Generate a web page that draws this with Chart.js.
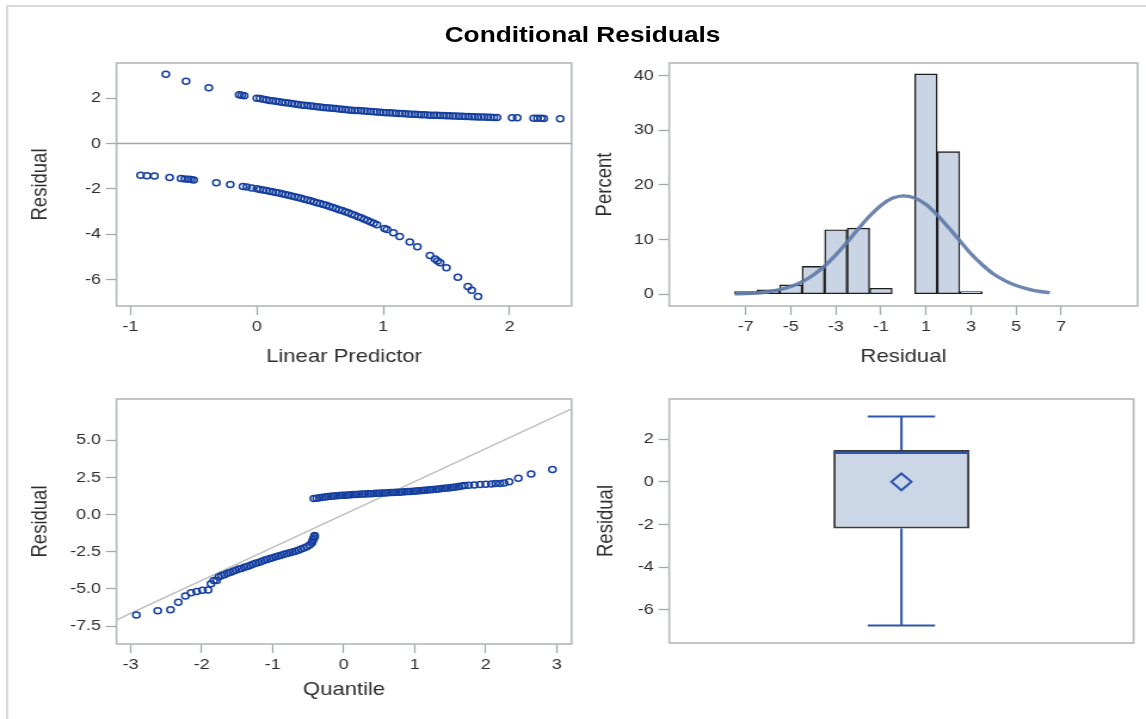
<!DOCTYPE html>
<html>
<head>
<meta charset="utf-8">
<script src="https://cdn.jsdelivr.net/npm/chart.js@4.4.1/dist/chart.umd.min.js"></script>
<style>
html,body{margin:0;padding:0;background:#fff;overflow:hidden}
/* the reference is a 640x480 SAS graph stretched wider than tall, so the page is drawn narrow and stretched */
#page{position:absolute;left:0;top:0;width:960px;height:719px;transform:scaleX(1.19375);transform-origin:0 0}
#edge{position:absolute;left:5px;top:5px;width:980px;height:730px;border-left:2px solid #dadada;border-top:2px solid #dadada}
#title{position:absolute;left:0;top:24px;width:976px;text-align:center;font:bold 22px 'Liberation Sans',Arial,sans-serif;line-height:22px;color:#000}
canvas{position:absolute}
</style>
</head>
<body>
<div id="page">
  <div id="edge"></div>
  <div id="title">Conditional Residuals</div>
  <canvas id="c1" width="485" height="320" style="left:0;top:50px"></canvas>
  <canvas id="c2" width="470" height="320" style="left:490px;top:50px"></canvas>
  <canvas id="c3" width="485" height="325" style="left:0;top:386px"></canvas>
  <canvas id="c4" width="470" height="270" style="left:490px;top:386px"></canvas>
</div>
<script>
// residual vs linear predictor, two branches
const lpUpper=[-0.72,-0.56,-0.38,-0.14,-0.12,-0.10,
  0,0.025,0.05,0.075,0.1,0.125,0.15,0.175,0.2,0.225,0.25,0.275,0.3,0.325,0.35,0.375,0.4,0.425,0.45,0.475,
  0.5,0.525,0.55,0.575,0.6,0.625,0.65,0.675,0.7,0.725,0.75,0.775,0.8,0.825,0.85,0.875,0.9,0.925,0.95,0.975,
  1.0,1.025,1.05,1.075,1.1,1.125,1.15,1.175,1.2,1.225,1.25,1.275,1.3,1.325,1.35,1.375,1.4,1.425,1.45,1.475,
  1.5,1.525,1.55,1.575,1.6,1.625,1.65,1.675,1.7,1.725,1.75,1.775,1.8,1.825,1.85,1.875,1.9,
  2.02,2.06,2.19,2.22,2.25,2.27,2.40];
const resUpper=[3.05,2.75,2.46,2.15,2.13,2.10,
  2.00,1.98,1.95,1.93,1.90,1.88,1.86,1.84,1.82,1.80,1.78,1.76,1.74,1.72,1.70,1.69,1.67,1.65,1.64,1.62,
  1.61,1.59,1.58,1.56,1.55,1.54,1.52,1.51,1.50,1.48,1.47,1.46,1.45,1.44,1.43,1.42,1.41,1.40,1.39,1.38,
  1.37,1.36,1.35,1.34,1.33,1.32,1.32,1.31,1.30,1.29,1.29,1.28,1.27,1.27,1.26,1.25,1.25,1.24,1.23,1.23,
  1.22,1.22,1.21,1.21,1.20,1.20,1.19,1.19,1.18,1.18,1.17,1.17,1.17,1.16,1.16,1.15,1.15,
  1.13,1.13,1.11,1.11,1.11,1.10,1.09];
const lpLower=[-0.92,-0.87,-0.81,-0.69,-0.60,-0.57,-0.54,-0.52,-0.50,-0.32,-0.21,-0.11,-0.08,-0.04,
  0,0.025,0.05,0.075,0.1,0.125,0.15,0.175,0.2,0.225,0.25,0.275,0.3,0.325,0.35,0.375,0.4,0.425,0.45,0.475,
  0.5,0.525,0.55,0.575,0.6,0.625,0.65,0.675,0.7,0.725,0.75,0.775,0.8,0.825,0.85,0.875,0.9,0.925,0.95,
  1.01,1.03,1.08,1.13,1.21,1.27,1.37,1.41,1.43,1.45,1.50,1.59,1.67,1.70,1.75];
const resLower=[-1.40,-1.42,-1.44,-1.50,-1.55,-1.57,-1.58,-1.59,-1.61,-1.73,-1.81,-1.90,-1.92,-1.96,
  -2.00,-2.03,-2.05,-2.08,-2.11,-2.13,-2.16,-2.19,-2.22,-2.25,-2.28,-2.32,-2.35,-2.38,-2.42,-2.46,-2.49,-2.53,-2.57,-2.61,
  -2.65,-2.69,-2.73,-2.78,-2.82,-2.87,-2.92,-2.96,-3.01,-3.06,-3.12,-3.17,-3.23,-3.28,-3.34,-3.40,-3.46,-3.52,-3.59,
  -3.75,-3.80,-3.94,-4.10,-4.35,-4.56,-4.94,-5.10,-5.18,-5.26,-5.48,-5.90,-6.31,-6.47,-6.75];
const lpTicks=[-1,0,1,2];
const lpResTicks=[-6,-4,-2,0,2];

// histogram of residuals with normal density
const binCenter=[-7,-6,-5,-4,-3,-2,-1,0,1,2,3];
const binPercent=[0.5,0.8,1.7,5.1,11.8,12.1,1.1,0,40.3,26.1,0.5];
const normX=[-7.5,-7,-6.5,-6,-5.5,-5,-4.5,-4,-3.5,-3,-2.5,-2,-1.5,-1,-0.5,0,0.5,1,1.5,2,2.5,3,3.5,4,4.5,5,5.5,6,6.5];
const normY=[0.06,0.12,0.24,0.46,0.83,1.41,2.29,3.53,5.17,7.20,9.52,11.97,14.31,16.25,17.54,18.0,17.6,16.4,14.5,12.2,9.8,7.4,5.4,3.7,2.5,1.6,1.0,0.55,0.3];
const histXTicks=[-7,-5,-3,-1,1,3,5,7];
const histYTicks=[0,10,20,30,40];

// normal quantile plot
const qLower=[-2.92,-2.62,-2.44,-2.33,-2.23,-2.15,-2.07,-1.99,-1.91,-1.87,
  -1.83,-1.79,-1.76,-1.72,-1.68,-1.64,-1.60,-1.56,-1.52,-1.48,
  -1.44,-1.40,-1.36,-1.32,-1.28,-1.24,-1.20,-1.16,-1.12,-1.08,
  -1.04,-1.00,-0.96,-0.92,-0.88,-0.84,-0.80,-0.76,-0.72,-0.68,
  -0.64,-0.60,-0.56,-0.52,-0.48,-0.45,-0.44,-0.43,-0.42,-0.41,-0.41];
const rLower=[-6.75,-6.47,-6.40,-5.90,-5.48,-5.26,-5.18,-5.10,-5.08,-4.66,
  -4.44,-4.44,-4.20,-4.10,-4.05,-3.94,-3.90,-3.82,-3.75,-3.66,
  -3.62,-3.55,-3.50,-3.42,-3.35,-3.28,-3.22,-3.16,-3.08,-3.02,
  -2.96,-2.90,-2.84,-2.78,-2.73,-2.67,-2.62,-2.57,-2.52,-2.46,
  -2.40,-2.32,-2.25,-2.16,-2.05,-1.92,-1.80,-1.68,-1.58,-1.48,-1.40];
const qUpper=[-0.42,-0.38,-0.34,-0.30,-0.26,-0.22,-0.18,-0.14,-0.10,-0.06,
  -0.02,0.02,0.06,0.10,0.14,0.18,0.22,0.26,0.30,0.34,
  0.38,0.42,0.46,0.50,0.54,0.58,0.62,0.66,0.70,0.74,
  0.78,0.82,0.86,0.90,0.94,0.98,1.02,1.06,1.10,1.14,
  1.18,1.22,1.26,1.30,1.34,1.38,1.42,1.46,1.50,1.54,
  1.58,1.62,1.66,1.70,1.76,1.84,1.92,2.00,2.08,2.14,2.20,2.26,2.33,2.46,2.64,2.94];
const rUpper=[1.08,1.10,1.13,1.16,1.18,1.21,1.23,1.25,1.27,1.28,
  1.30,1.31,1.32,1.33,1.35,1.36,1.37,1.38,1.39,1.40,
  1.41,1.42,1.43,1.44,1.45,1.46,1.47,1.48,1.49,1.50,
  1.51,1.52,1.54,1.55,1.56,1.57,1.59,1.60,1.62,1.63,
  1.65,1.67,1.69,1.71,1.73,1.75,1.77,1.79,1.81,1.84,
  1.86,1.89,1.92,1.95,1.98,2.00,2.02,2.04,2.06,2.10,2.10,2.12,2.21,2.45,2.73,3.04];
const refLineX=[-3.2,3.21];
const refLineY=[-7.08,7.12];
const qTicks=[-3,-2,-1,0,1,2,3];
const qResTicks=[-7.5,-5,-2.5,0,2.5,5];

// box plot summary
const whiskerLow=-6.73, q1=-2.19, median=1.36, q3=1.49, whiskerHigh=3.06, mean=0.0;
const boxResTicks=[-6,-4,-2,0,2];

const FONT="'Liberation Sans',Arial,sans-serif";
const INK='#2e2e2e', TICK='#a4a9ad', FRAME='#b3b8bc', MARK='#143e9f', WHISK='#2f56ad';
const pts=(xs,ys)=>xs.map((x,i)=>({x,y:ys[i]}));

const frame={id:'frame',beforeDatasetsDraw(chart){
  const {ctx,chartArea:a}=chart;
  ctx.save();ctx.strokeStyle=FRAME;ctx.lineWidth=1.6;
  ctx.strokeRect(a.left,a.top,a.right-a.left,a.bottom-a.top);ctx.restore();
}};

function axis(min,max,tickVals,title,size,titlePad,horiz,fmt){
  return {type:'linear',min,max,offset:false,
    afterBuildTicks:s=>{s.ticks=tickVals.map(v=>({value:v}))},
    afterFit:s=>{if(horiz)s.height=size;else s.width=size;},
    grid:{offset:false,drawOnChartArea:false,drawTicks:true,tickLength:9,tickWidth:1.3,tickColor:TICK},
    border:{display:false},
    ticks:{color:INK,font:{family:FONT,size:15},padding:horiz?3:4,maxRotation:0,autoSkip:false,callback:fmt||(v=>String(v))},
    title:{display:!!title,text:title,color:INK,font:{family:FONT,size:18.5},
      padding:horiz?{top:0,bottom:titlePad}:{top:titlePad,bottom:0}}
  };
}
function base(pad,scales){
  return {responsive:false,animation:false,devicePixelRatio:1,
    layout:{padding:pad},
    plugins:{legend:{display:false},tooltip:{enabled:false}},
    scales};
}
const marker={pointStyle:'circle',pointRadius:3,borderWidth:1.5,borderColor:MARK,backgroundColor:'rgba(0,0,0,0)'};

// top left: residual by linear predictor
new Chart(document.getElementById('c1'),{
  type:'scatter',
  data:{datasets:[
    {...marker,data:pts(lpUpper,resUpper),order:0},
    {...marker,data:pts(lpLower,resLower),order:0},
    {data:pts([-1.11,2.49],[0,0]),showLine:true,pointRadius:0,borderColor:'#a6a6a6',borderWidth:1.4,order:2}
  ]},
  options:base({top:8.3,right:6.2,left:0,bottom:0},{
    x:axis(-1.11,2.49,lpTicks,'Linear Predictor',64,2.2,true),
    y:axis(-7.17,3.55,lpResTicks,'Residual',97.6,23,false)
  }),
  plugins:[frame]
});

// top right: histogram
new Chart(document.getElementById('c2'),{
  type:'bar',
  data:{datasets:[
    {type:'line',data:pts(normX,normY),borderColor:'rgba(98,124,168,0.92)',borderWidth:3.4,pointRadius:0,cubicInterpolationMode:'monotone',order:0},
    {type:'bar',data:binCenter.map((x,i)=>({x,y:binPercent[i]||null})),backgroundColor:'#c9d4e4',borderColor:'#1e1e1e',borderWidth:1.4,
      borderSkipped:false,categoryPercentage:1,barPercentage:1,order:1}
  ]},
  options:base({top:8.3,right:7,left:0,bottom:0},{
    x:axis(-10.4,10.4,histXTicks,'Residual',64,2.2,true),
    y:axis(-2.15,42.3,histYTicks,'Percent',70.6,5.6,false)
  }),
  plugins:[frame]
});

// bottom left: quantile plot
new Chart(document.getElementById('c3'),{
  type:'scatter',
  data:{datasets:[
    {...marker,data:pts(qLower,rLower),order:0},
    {...marker,data:pts(qUpper,rUpper),order:0},
    {data:pts(refLineX,refLineY),showLine:true,pointRadius:0,borderColor:'#bdbdbd',borderWidth:1.5,order:2}
  ]},
  options:base({top:8,right:6.2,left:0,bottom:0},{
    x:axis(-3.2,3.21,qTicks,'Quantile',67,9.9,true),
    y:axis(-8.71,7.78,qResTicks,'Residual',97.6,22.4,false,v=>v.toFixed(1))
  }),
  plugins:[frame]
});

// bottom right: box plot
const boxHalf=0.293, capHalf=0.145;
const seg=(x0,y0,x1,y1,w)=>({type:'line',data:[{x:x0,y:y0},{x:x1,y:y1}],borderColor:WHISK,borderWidth:w||2,pointRadius:0,order:1});
new Chart(document.getElementById('c4'),{
  type:'bar',
  data:{datasets:[
    {type:'scatter',data:[{x:0,y:mean}],pointStyle:'rectRot',pointRadius:8.4,borderWidth:2,borderColor:WHISK,backgroundColor:'rgba(0,0,0,0)',order:0},
    seg(-boxHalf,median,boxHalf,median,2.4),
    seg(0,q3,0,whiskerHigh),seg(0,q1,0,whiskerLow),
    seg(-capHalf,whiskerHigh,capHalf,whiskerHigh),seg(-capHalf,whiskerLow,capHalf,whiskerLow),
    {type:'bar',data:[{x:0,y:[q1,q3]}],backgroundColor:'#cbd6e6',borderColor:'#3a3a3a',borderWidth:2,borderSkipped:false,
      categoryPercentage:1,barPercentage:boxHalf,order:3}
  ]},
  options:base({top:8,right:7,left:0,bottom:12},{
    x:{type:'linear',min:-1,max:1,offset:false,display:false,afterBuildTicks:s=>{s.ticks=[{value:0}]}},
    y:axis(-7.55,3.88,boxResTicks,'Residual',70.6,7.1,false)
  }),
  plugins:[frame]
});
</script>
</body>
</html>
